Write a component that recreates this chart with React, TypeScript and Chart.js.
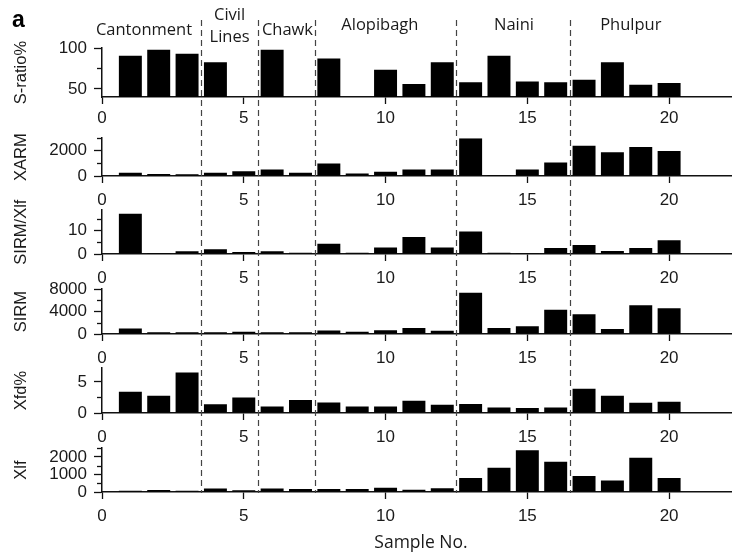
import React, { useEffect, useRef } from 'react';
import { Chart, registerables } from 'chart.js';

Chart.register(...registerables);

// ---------------- data ----------------
const sampleNo = [1, 2, 3, 4, 5, 6, 7, 8, 9, 10, 11, 12, 13, 14, 15, 16, 17, 18, 19, 20];
const sRatio: (number | null)[] = [90.5, 98, 93, 82.5, null, 98, null, 87, null, 73.5, 56, 82.5, 58, 90.5, 59, 58, 61, 82.5, 55, 57];
const xarm = [260, 165, 140, 260, 376, 518, 260, 990, 190, 330, 518, 518, 3000, 70, 518, 1080, 2400, 1880, 2300, 1980];
const sirmXlf = [17.1, 0.4, 1.2, 2.0, 0.8, 1.2, 0.5, 4.4, 0.5, 2.8, 7.2, 2.8, 9.6, 0.5, 0.3, 2.6, 3.8, 1.3, 2.6, 5.8];
const sirm = [960, 320, 320, 320, 380, 320, 320, 640, 380, 690, 1060, 580, 7360, 1060, 1380, 4320, 3520, 900, 5120, 4580];
const xfd = [3.4, 2.76, 6.5, 1.4, 2.5, 1.05, 2.1, 1.7, 1.05, 1.05, 1.95, 1.33, 1.43, 0.9, 0.8, 0.9, 3.9, 2.76, 1.66, 1.8];
const xlf = [70, 120, 70, 200, 100, 200, 170, 170, 170, 240, 135, 220, 800, 1380, 2390, 1720, 920, 650, 1950, 800];

const panelTitles = ['S-ratio%', 'XARM', 'SIRM/Xlf', 'SIRM', 'Xfd%', 'Xlf'];
const panelValues: (number | null)[][] = [sRatio, xarm, sirmXlf, sirm, xfd, xlf];
const panelMin = [40, 0, 0, 0, 0, 0];
const panelMax = [100, 3000, 18.6, 8000, 7.2, 2500];
const majorTicks = [[50, 100], [0, 2000], [0, 10], [0, 4000, 8000], [0, 5], [0, 1000, 2000]];
const minorTicks = [[75], [1000, 3000], [5, 15], [2000, 6000], [2.5], [500, 1500, 2500]];
const xTicks = [0, 5, 10, 15, 20];
const regionBounds = [3.5, 5.5, 7.5, 12.5, 16.5];
const regionNames: string[][] = [['Cantonment'], ['Civil', 'Lines'], ['Chawk'], ['Alopibagh'], ['Naini'], ['Phulpur']];
const xTitle = 'Sample No.';
const panelLetter = 'a';

// ---------------- layout ----------------
const W = 732;
const H = 555;
const CANVAS_W = 740;
const X_MAX = 22.5;
const chartTops = [48, 133, 205, 284, 363, 443];
const baselines = [97, 176, 254, 334, 413, 492];
const regionLabelX = [1.48, 4.5, 6.54, 9.8, 14.53, 18.65];
const regionLabelY: number[][] = [[35], [20, 42], [35], [30], [30], [30]];
const DASH_TOP = 20;
const DASH_BOTTOM = 493;

const SANS = '"Liberation Sans", Arial, sans-serif';
const HUMAN = '"Open Sans", "Noto Sans", sans-serif';
const TXT = '#1a1a1a';

const canvasTops = chartTops.map((t, i) => (i === 0 ? 0 : t - 12));
const canvasBottoms = baselines.map((b, i) => (i === 5 ? H : b + 34));
const bandEdges = [0];
for (let i = 0; i < 5; i++) bandEdges.push(Math.round((canvasBottoms[i] + canvasTops[i + 1]) / 2));
bandEdges.push(H);

export default function App() {
  const refs = useRef<(HTMLCanvasElement | null)[]>([]);

  useEffect(() => {
    const charts: Chart[] = [];
    for (let p = 0; p < 6; p++) {
      const canvas = refs.current[p];
      if (!canvas) continue;
      const cTop = canvasTops[p];
      const cBottom = canvasBottoms[p];
      const overlay = {
        id: 'overlay' + p,
        afterDraw(chart: any) {
          const ctx: CanvasRenderingContext2D = chart.ctx;
          const xs = chart.scales.x;
          const ys = chart.scales.y;
          ctx.save();
          // minor y ticks
          ctx.strokeStyle = '#111';
          ctx.lineWidth = 1.3;
          for (const v of minorTicks[p]) {
            const y = Math.round(ys.getPixelForValue(v)) + 0.5;
            ctx.beginPath();
            ctx.moveTo(ys.right - 5, y);
            ctx.lineTo(ys.right, y);
            ctx.stroke();
          }
          // dashed region boundaries, clipped to this canvas's band
          ctx.save();
          ctx.beginPath();
          ctx.rect(0, bandEdges[p] - cTop, chart.width, bandEdges[p + 1] - bandEdges[p]);
          ctx.clip();
          ctx.setLineDash([6, 4]);
          ctx.strokeStyle = '#444';
          ctx.lineWidth = 1.2;
          for (const b of regionBounds) {
            const x = Math.round(xs.getPixelForValue(b)) + 0.5;
            ctx.beginPath();
            ctx.moveTo(x, DASH_TOP - cTop);
            ctx.lineTo(x, DASH_BOTTOM - cTop);
            ctx.stroke();
          }
          ctx.restore();
          if (p === 0) {
            ctx.fillStyle = TXT;
            ctx.textAlign = 'center';
            ctx.textBaseline = 'alphabetic';
            ctx.font = '16.5px ' + HUMAN;
            regionNames.forEach((lines, i) => {
              const x = xs.getPixelForValue(regionLabelX[i]);
              lines.forEach((t, j) => ctx.fillText(t, x, regionLabelY[i][j]));
            });
            ctx.textAlign = 'left';
            ctx.font = 'bold 23px ' + SANS;
            ctx.fillStyle = '#000';
            ctx.fillText(panelLetter, 12, 27);
          }
          ctx.restore();
        },
      };
      const chart = new Chart(canvas, {
        type: 'bar',
        data: {
          datasets: [
            {
              data: sampleNo.map((x, i) => ({ x, y: panelValues[p][i] })) as any,
              backgroundColor: '#000',
              borderWidth: 0,
              barPercentage: 0.81,
              categoryPercentage: 1,
            },
          ],
        },
        options: {
          responsive: false,
          animation: false,
          devicePixelRatio: 1,
          layout: { padding: { top: chartTops[p] - cTop, left: 0, right: 0, bottom: 0 } },
          plugins: { legend: { display: false }, tooltip: { enabled: false }, title: { display: false } },
          scales: {
            x: {
              type: 'linear',
              min: 0,
              max: X_MAX,
              offset: false,
              afterBuildTicks: (ax: any) => {
                ax.ticks = xTicks.map((v) => ({ value: v }));
              },
              afterFit: (ax: any) => {
                ax.height = cBottom - baselines[p];
              },
              grid: {
                display: true,
                drawOnChartArea: false,
                drawTicks: true,
                tickLength: 7,
                color: '#111',
                tickColor: '#111',
                tickWidth: 1.3,
                offset: false,
              },
              border: { display: true, color: '#111', width: 1.5 },
              ticks: {
                padding: p === 0 ? 4 : 7,
                autoSkip: false,
                maxRotation: 0,
                color: TXT,
                font: { family: SANS, size: 17 },
                callback: (v: any) => String(v),
              },
              title: {
                display: p === 5,
                text: xTitle,
                color: TXT,
                font: { family: HUMAN, size: 17.5, lineHeight: 1.2 },
                padding: { top: 0, bottom: 1 },
              },
            } as any,
            y: {
              type: 'linear',
              min: panelMin[p],
              max: panelMax[p],
              afterBuildTicks: (ax: any) => {
                ax.ticks = majorTicks[p].map((v) => ({ value: v }));
              },
              afterFit: (ax: any) => {
                ax.width = 102;
              },
              grid: {
                display: true,
                drawOnChartArea: false,
                drawTicks: true,
                tickLength: 8,
                color: '#111',
                tickColor: '#111',
                tickWidth: 1.3,
              },
              border: { display: true, color: '#111', width: 1.5 },
              ticks: {
                padding: 7,
                autoSkip: false,
                color: TXT,
                font: { family: SANS, size: 17 },
                callback: (v: any) => String(v),
              },
              title: {
                display: true,
                text: panelTitles[p],
                color: TXT,
                font: { family: SANS, size: 16.5, lineHeight: 1.2 },
                padding: { top: 12, bottom: 0 },
              },
            } as any,
          },
        },
        plugins: [overlay],
      });
      charts.push(chart);
    }
    return () => charts.forEach((c) => c.destroy());
  }, []);

  return (
    <div
      style={{
        position: 'fixed',
        left: 0,
        top: 0,
        width: W,
        height: H,
        overflow: 'hidden',
        background: '#fff',
      }}
    >
      {chartTops.map((_, p) => {
        const h = canvasBottoms[p] - canvasTops[p];
        return (
          <canvas
            key={p}
            ref={(el) => {
              refs.current[p] = el;
            }}
            width={CANVAS_W}
            height={h}
            style={{ position: 'absolute', left: 0, top: canvasTops[p], width: CANVAS_W, height: h }}
          />
        );
      })}
    </div>
  );
}
